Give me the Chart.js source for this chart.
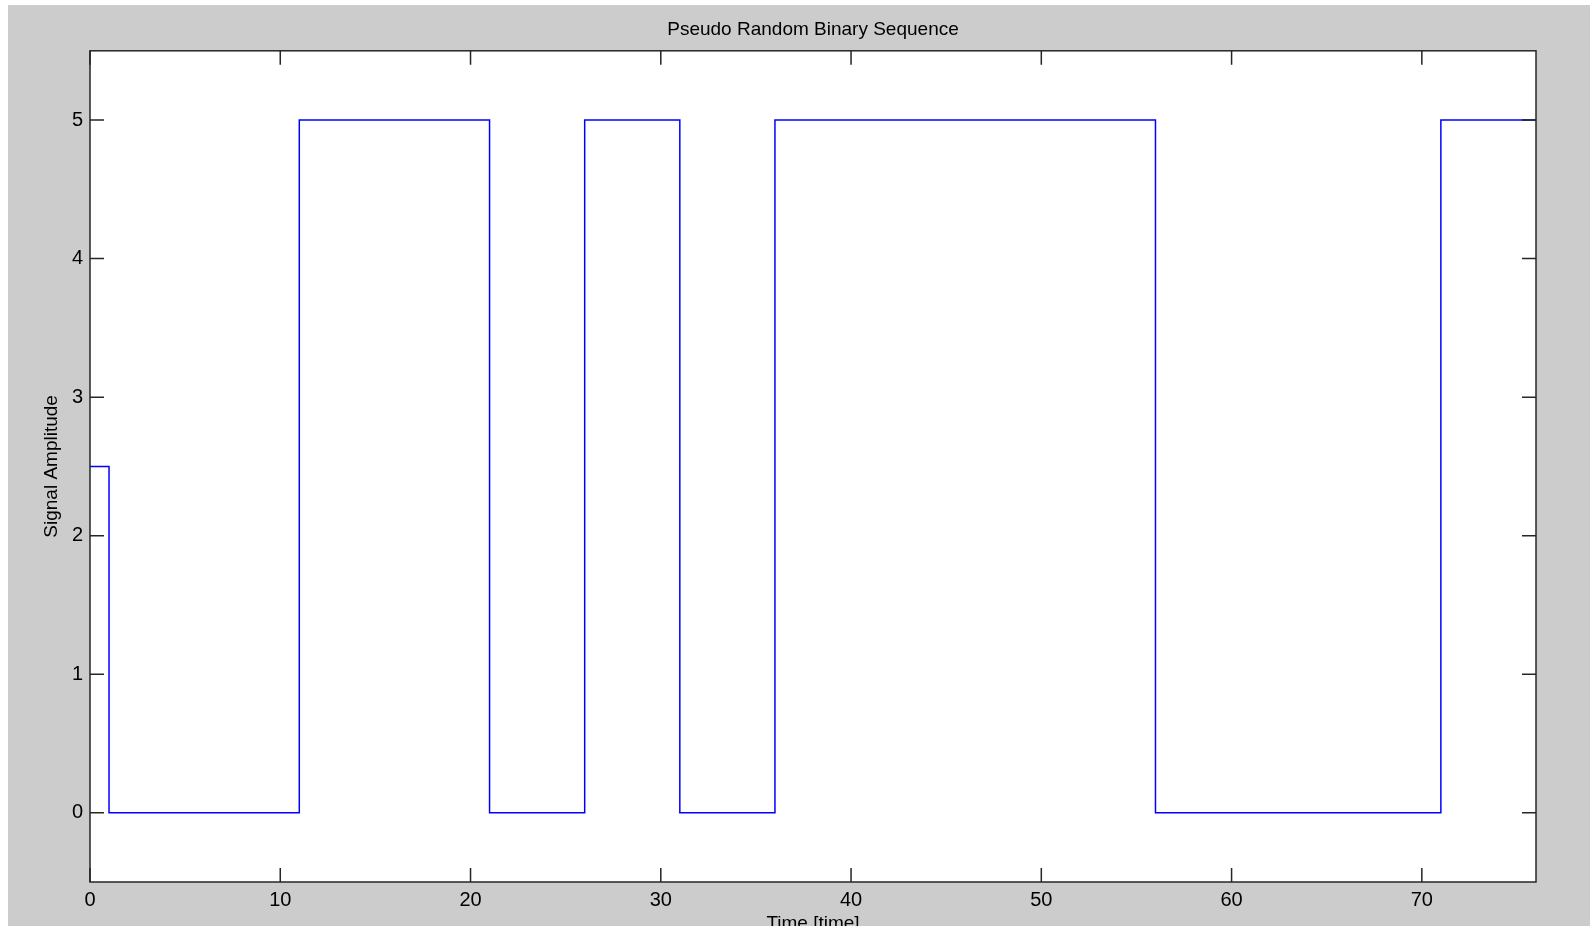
<!DOCTYPE html>
<html>
<head>
<meta charset="utf-8">
<script src="https://cdn.jsdelivr.net/npm/chart.js@4.4.0/dist/chart.umd.min.js"></script>
<style>
html, body { margin: 0; padding: 0; background: #fff; }
#wrap { width: 1590px; height: 926px; }
</style>
</head>
<body>
<div id="wrap"><canvas id="prbs-chart" width="1590" height="926"></canvas></div>
<script>
// step signal: each level holds from its time until the next one
const times = [0, 1, 11, 21, 26, 31, 36, 56, 71, 76];
const levels = [2.5, 0, 5, 0, 5, 0, 5, 0, 5, 5];
const xTicks = [0, 10, 20, 30, 40, 50, 60, 70];
const yTicks = [0, 1, 2, 3, 4, 5];

const fontFamily = '"Liberation Sans", Arial, sans-serif';

const points = times.map((t, i) => ({ x: t, y: levels[i] }));

// grey figure background, inward ticks and the box around the axes
const matlabFrame = {
    id: 'matlabFrame',
    beforeDraw(chart) {
        const ctx = chart.ctx;
        const a = chart.chartArea;
        ctx.save();
        ctx.fillStyle = '#ffffff';
        ctx.fillRect(0, 0, chart.width, chart.height);
        ctx.fillStyle = '#cccccc';
        ctx.fillRect(8, 5, chart.width - 8, chart.height - 5);
        ctx.fillStyle = '#ffffff';
        ctx.fillRect(a.left, a.top, a.right - a.left, a.bottom - a.top);
        ctx.restore();
    },
    afterDraw(chart) {
        const ctx = chart.ctx;
        const a = chart.chartArea;
        const xs = chart.scales.x;
        const ys = chart.scales.y;
        const len = 14;
        ctx.save();
        ctx.strokeStyle = '#262626';
        ctx.lineWidth = 1.5;
        ctx.beginPath();
        xTicks.forEach(v => {
            const px = xs.getPixelForValue(v);
            ctx.moveTo(px, a.bottom);
            ctx.lineTo(px, a.bottom - len);
            ctx.moveTo(px, a.top);
            ctx.lineTo(px, a.top + len);
        });
        yTicks.forEach(v => {
            const py = ys.getPixelForValue(v);
            ctx.moveTo(a.left, py);
            ctx.lineTo(a.left + len, py);
            ctx.moveTo(a.right, py);
            ctx.lineTo(a.right - len, py);
        });
        ctx.stroke();
        ctx.strokeRect(a.left, a.top, a.right - a.left, a.bottom - a.top);
        ctx.restore();
    }
};

const prbsChart = new Chart(document.getElementById('prbs-chart').getContext('2d'), {
    type: 'line',
    data: {
        datasets: [{
            label: 'PRBS',
            data: points,
            stepped: 'before',
            borderColor: '#0000ff',
            borderWidth: 1.5,
            pointRadius: 0,
            fill: false
        }]
    },
    options: {
        responsive: false,
        animation: false,
        layout: { padding: { left: 0, right: 54, top: 0, bottom: 0 } },
        plugins: {
            legend: { display: false },
            tooltip: { enabled: false },
            title: {
                display: true,
                text: 'Pseudo Random Binary Sequence',
                fullSize: false,
                color: '#000',
                font: { family: fontFamily, size: 19, weight: 'normal', lineHeight: 1.2 },
                padding: { top: 18, bottom: 10 }
            }
        },
        scales: {
            x: {
                type: 'linear',
                position: 'bottom',
                min: 0,
                max: 76,
                afterBuildTicks: s => { s.ticks = xTicks.map(v => ({ value: v })); },
                afterFit: s => { s.height = 44; },
                grid: { display: false, drawTicks: false },
                border: { display: false },
                ticks: {
                    color: '#000',
                    padding: 6,
                    maxRotation: 0,
                    font: { family: fontFamily, size: 20 }
                },
                title: {
                    display: true,
                    text: 'Time [time]',
                    color: '#000',
                    font: { family: fontFamily, size: 19, lineHeight: 1.2 },
                    padding: { top: 0, bottom: -9 }
                }
            },
            y: {
                type: 'linear',
                min: -0.5,
                max: 5.5,
                afterBuildTicks: s => { s.ticks = yTicks.map(v => ({ value: v })); },
                afterFit: s => { s.width = 90; },
                grid: { display: false, drawTicks: false },
                border: { display: false },
                ticks: {
                    color: '#000',
                    padding: 7,
                    font: { family: fontFamily, size: 20 }
                },
                title: {
                    display: true,
                    text: 'Signal Amplitude',
                    color: '#000',
                    font: { family: fontFamily, size: 19, lineHeight: 1.2 },
                    padding: { top: 40, bottom: 0 }
                }
            }
        }
    },
    plugins: [matlabFrame]
});
</script>
</body>
</html>
